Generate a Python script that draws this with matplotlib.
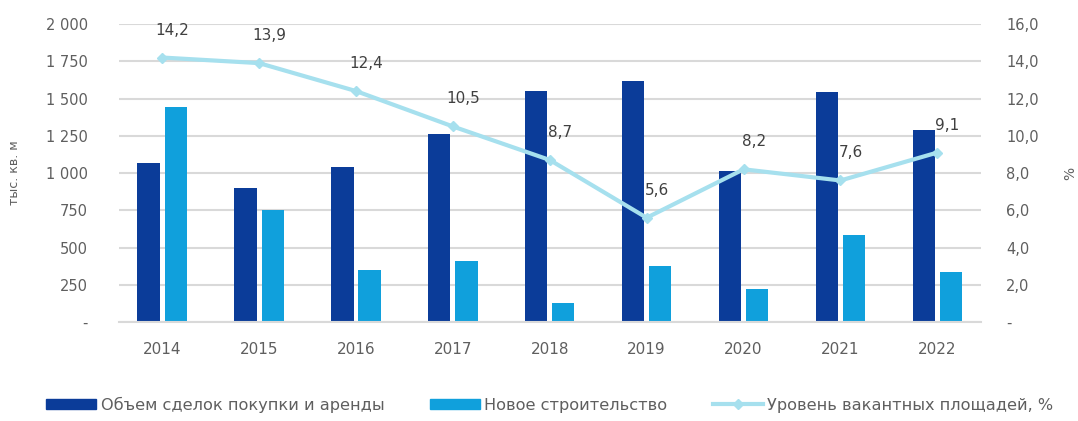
import matplotlib
matplotlib.use('Agg')
import matplotlib.pyplot as plt
from matplotlib.lines import Line2D
from matplotlib.patches import Patch
import numpy as np

years = ['2014', '2015', '2016', '2017', '2018', '2019', '2020', '2021', '2022']
deals = [1067, 899, 1040, 1262, 1550, 1617, 1013, 1544, 1289]
new_build = [1443, 752, 349, 409, 128, 376, 221, 584, 336]
vacancy = [14.2, 13.9, 12.4, 10.5, 8.7, 5.6, 8.2, 7.6, 9.1]

left_ticks = [0, 250, 500, 750, 1000, 1250, 1500, 1750, 2000]
left_labels = ['-', '250', '500', '750', '1 000', '1 250', '1 500', '1 750', '2 000']
right_ticks = [0, 2, 4, 6, 8, 10, 12, 14, 16]
right_labels = ['-', '2,0', '4,0', '6,0', '8,0', '10,0', '12,0', '14,0', '16,0']

c_dark = '#0B3C99'
c_light = '#10A0DC'
c_line = '#A6E0EE'
c_text = '#5F5F5F'

fig = plt.figure(figsize=(10.78, 4.21), dpi=100)
ax = fig.add_axes([0.110, 0.235, 0.800, 0.708])
ax2 = ax.twinx()

x = np.arange(len(years))
w = 0.23
ax.bar(x - 0.14, deals, w, color=c_dark, zorder=2)
ax.bar(x + 0.14, new_build, w, color=c_light, zorder=2)

ax.set_ylim(0, 2000)
ax.set_yticks(left_ticks)
ax.set_yticklabels(left_labels)
ax.set_xlim(-0.45, len(years) - 0.55)
ax.set_xticks(x)
ax.set_xticklabels(years)
ax.grid(axis='y', color='#D9D9D9', linewidth=1.5, zorder=0)
ax.set_axisbelow(True)
ax.set_ylabel('тыс. кв. м', color=c_text, fontsize=9, labelpad=18)

ax2.plot(x, vacancy, color=c_line, linewidth=3, marker='D', markersize=5, zorder=3)
ax2.set_ylim(0, 16)
ax2.set_yticks(right_ticks)
ax2.set_yticklabels(right_labels)
ax2.set_ylabel('%', color=c_text, fontsize=10, labelpad=18)
for xi, v in zip(x, vacancy):
    ax2.annotate(f'{v:.1f}'.replace('.', ','), (xi, v), xytext=(10, 20),
                 textcoords='offset pixels', ha='center', va='bottom',
                 color='#404040', fontsize=11)

for a in (ax, ax2):
    for s in a.spines.values():
        s.set_visible(False)
    a.tick_params(length=0, colors=c_text, labelsize=10.5)
ax.tick_params(axis='y', pad=22)
ax2.tick_params(axis='y', pad=18)
ax.tick_params(axis='x', pad=14, labelsize=11)
ax.spines['bottom'].set_visible(True)
ax.spines['bottom'].set_color('#D9D9D9')
ax.spines['bottom'].set_linewidth(1.5)

handles = [Patch(color=c_dark), Patch(color=c_light),
           Line2D([], [], color=c_line, linewidth=3, marker='D', markersize=5)]
labels = ['Объем сделок покупки и аренды', 'Новое строительство',
          'Уровень вакантных площадей, %']
fig.legend(handles, labels, loc='lower center', bbox_to_anchor=(0.51, -0.015),
           ncol=3, frameon=False, fontsize=11.6, labelcolor=c_text,
           handlelength=3.1, handleheight=0.6, handletextpad=0.3,
           columnspacing=2.8)

fig.savefig('out.png', dpi=100)
